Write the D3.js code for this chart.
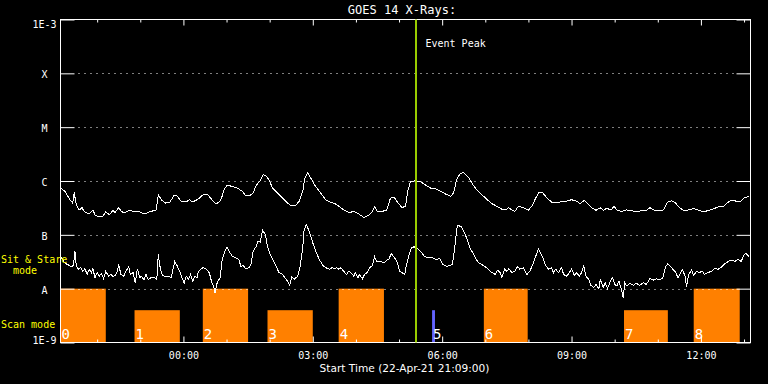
<!DOCTYPE html>
<html>
<head>
<meta charset="utf-8">
<script src="https://cdn.jsdelivr.net/npm/d3@7"></script>
<style>
  body { margin: 0; background: #000; }
  svg { display: block; }
</style>
</head>
<body>
<svg id="chart"></svg>
<script>
// GOES 14 X-ray flux, start 22-Apr-21 21:09:00 UT, 16 hours shown
const startTime = Date.UTC(2021, 3, 22, 21, 9, 0);
const spanMinutes = 960;
const peakMinute = 495;

// long channel (1-8 A): minutes after start, flux in 1e-7 W/m^2
const longMinutes = [0,6,13,17,19,22,26,30,33,40,45,48,54,59,63,68,73,76,81,85,89,95,103,110,117,124,131,133,136,141,146,152,158,162,168,175,179,184,189,193,198,205,209,214,217,221,224,228,232,239,246,253,258,263,268,272,277,282,286,290,295,302,309,316,320,327,332,337,340,344,348,355,362,369,376,382,387,394,401,408,415,422,429,434,437,441,447,454,459,464,468,475,480,483,487,494,501,508,515,522,529,536,543,547,551,556,561,568,574,579,586,593,600,607,614,620,623,628,632,637,644,651,656,661,666,671,677,684,691,697,704,711,718,723,729,735,739,745,751,755,760,766,770,774,781,787,794,801,808,815,820,827,834,839,844,850,855,861,867,875,881,888,895,903,910,917,923,927,934,941,946,952,958];
const longFlux = [7.4,6.5,4.5,3.9,6.1,3.6,2.9,3.2,2.7,2.45,2.9,2.35,2.15,2.2,2.7,2.35,2.85,2.6,3.2,2.7,2.55,2.85,2.7,2.67,2.45,2.67,2.85,2.9,5.5,4.4,3.9,4.0,5.4,5.3,4.2,4.1,4.5,4.1,4.4,4.8,5.5,5.5,4.8,4.0,3.8,4.1,4.8,7.1,8.4,7.9,7.4,6.4,5.3,5.3,6.0,8.2,9.8,13.1,12.5,10.6,7.4,6.0,4.8,3.9,3.5,3.5,4.2,6.4,11.4,14.4,11.4,7.9,6.0,4.5,4.0,3.8,3.4,2.9,2.6,2.7,2.45,2.1,2.3,2.7,3.3,2.7,2.7,2.9,4.8,5.0,4.2,3.2,3.4,6.4,9.8,10.1,9.7,8.4,7.4,7.2,6.4,5.7,5.2,6.0,10.6,13.7,14.4,11.4,8.5,6.9,5.6,4.6,3.8,3.4,3.0,2.9,3.2,2.9,2.7,3.4,3.2,2.9,3.4,4.8,6.2,6.0,4.8,4.0,4.0,4.1,4.2,4.5,4.2,3.8,4.4,3.6,3.2,2.85,3.2,2.85,3.1,2.9,3.4,2.9,2.7,2.9,2.8,2.7,2.8,2.85,3.2,2.8,2.8,2.9,4.0,4.3,4.0,3.2,2.85,2.9,3.1,2.85,2.7,2.85,3.1,3.4,3.4,3.9,4.4,4.2,4.2,5.0,5.1];

// short channel (0.5-4 A): minutes after start, flux in 1e-8 W/m^2
const shortMinutes = [0,3,6,10,15,18,20,22,25,28,31,34,37,40,43,45,48,51,54,57,60,63,67,70,73,76,79,81,84,88,91,95,97,101,104,107,110,113,116,119,122,126,131,134,136,139,142,146,149,154,159,162,166,169,172,175,178,181,184,187,190,192,198,202,207,210,214,215,218,222,225,229,232,236,239,244,248,251,254,258,262,265,268,272,275,278,281,285,288,291,295,300,304,309,312,316,319,322,325,330,333,337,339,342,346,351,355,360,365,369,374,378,382,384,387,390,394,398,401,404,408,410,414,416,420,423,427,430,434,437,440,445,450,454,457,460,464,468,472,475,479,481,485,488,492,497,502,506,511,517,522,528,532,538,545,548,552,557,561,566,570,574,577,582,586,591,595,600,605,608,612,614,618,621,624,628,632,636,639,644,649,653,658,662,665,669,672,675,679,683,686,689,693,697,700,704,708,711,715,718,722,725,728,731,735,738,742,745,749,751,755,758,761,765,768,771,774,777,781,783,785,788,792,797,801,806,811,815,820,825,829,834,838,842,845,849,852,856,859,863,865,869,871,874,878,881,885,888,893,896,901,906,910,915,920,924,929,934,938,943,947,951,954,958];
const shortFlux = [4.0,3.5,3.0,2.8,2.55,2.7,5.0,2.6,2.3,2.45,2.1,2.35,1.84,2.3,1.98,2.35,1.6,1.98,1.71,1.92,1.53,2.1,1.71,1.84,1.67,1.77,2.1,2.8,1.84,1.71,2.1,2.6,1.84,1.98,1.29,2.35,1.6,1.71,1.45,1.84,1.49,1.6,1.6,1.49,4.3,2.3,1.77,1.67,1.71,1.6,3.2,2.7,2.1,1.6,1.26,1.71,1.49,1.84,1.38,1.71,1.6,2.1,2.45,2.35,1.98,1.38,1.0,0.84,1.29,1.6,3.5,5.0,5.9,4.6,4.0,3.75,3.5,2.6,2.7,2.3,2.45,2.8,5.0,6.0,7.7,7.3,12.2,10.1,6.1,4.6,3.5,2.6,1.98,1.84,1.6,1.38,1.15,1.67,1.49,1.71,2.45,5.7,12.5,15.5,11.7,7.1,5.0,3.5,2.7,2.45,2.3,2.45,2.35,2.45,2.3,2.45,2.1,1.84,2.1,1.98,1.71,1.98,1.6,1.84,1.53,1.84,2.0,2.45,2.7,3.9,3.2,3.2,3.0,3.4,3.5,4.5,3.9,3.2,2.1,1.98,1.84,2.6,4.3,5.7,6.0,5.5,4.8,4.0,3.75,3.75,3.5,3.6,2.8,2.6,2.8,5.0,14.9,14.4,11.7,8.2,5.5,4.6,3.75,3.0,2.8,2.55,2.3,2.0,1.84,2.2,1.98,1.6,2.3,2.1,2.35,1.98,2.1,2.6,2.3,2.45,1.84,2.1,3.0,4.3,5.5,4.3,3.5,2.7,2.3,2.45,1.98,2.3,1.98,2.45,1.84,1.71,1.98,2.3,1.77,1.98,1.71,1.98,2.7,1.71,1.49,1.15,1.05,1.2,1.0,1.49,1.05,1.29,1.0,1.38,1.6,1.2,1.12,1.38,0.90,0.68,1.29,1.12,1.26,1.15,1.26,1.15,1.29,1.2,1.53,1.45,1.53,1.45,1.6,2.6,2.9,2.55,2.3,2.0,1.6,1.98,2.3,1.71,1.09,1.84,2.2,1.77,2.1,1.98,2.1,1.84,2.0,2.1,2.35,2.3,2.55,2.9,3.2,3.4,3.2,3.5,3.2,4.3,4.5,3.9];

// flare class levels on the y axis
const levelNames = ["1E-9", "A", "B", "C", "M", "X", "1E-3"];
const levelFlux = [1e-9, 1e-8, 1e-7, 1e-6, 1e-5, 1e-4, 1e-3];

// observing mode blocks (minutes after start)
const modeLabels = ["0", "1", "2", "3", "4", "5", "6", "7", "8"];
const modeStart = [0, 103, 198, 288, 387, 517, 589, 784, 881];
const modeEnd = [63, 166, 261, 351, 450, 521, 650, 845, 945];
const modeKind = ["stare", "scan", "stare", "scan", "stare", "short", "stare", "scan", "stare"];

const width = 768, height = 384;
const margin = {top: 19.5, right: 17.5, bottom: 41.5, left: 60.5};
const x0 = margin.left, x1 = width - margin.right;
const y0 = margin.top, y1 = height - margin.bottom;
const mono = "'DejaVu Sans Mono', monospace";

const svg = d3.select("#chart")
    .attr("width", width)
    .attr("height", height)
    .style("background", "#000");

const toDate = m => new Date(startTime + m * 60000);

const x = d3.scaleUtc()
    .domain([toDate(0), toDate(spanMinutes)])
    .range([x0, x1]);

const y = d3.scaleLog()
    .domain([1e-9, 1e-3])
    .range([y1, y0]);

// bar height within the lowest decade
const modeLevel = d3.scaleOrdinal()
    .domain(["stare", "scan", "short"])
    .range([1, 0.6, 0.6]);
const modeColor = d3.scaleOrdinal()
    .domain(["stare", "scan", "short"])
    .range(["#ff8000", "#ff8000", "#6464ff"]);
const yMode = d3.scaleLinear()
    .domain([0, 1])
    .range([y1, y(1e-8)]);

const modes = modeLabels.map((label, i) => ({
  label, kind: modeKind[i], start: toDate(modeStart[i]), end: toDate(modeEnd[i])
}));

svg.append("defs").append("clipPath").attr("id", "plot")
  .append("rect").attr("x", x0).attr("y", y0).attr("width", x1 - x0).attr("height", y1 - y0);

// mode bars
svg.append("g")
    .attr("clip-path", "url(#plot)")
  .selectAll("rect")
  .data(modes)
  .join("rect")
    .attr("x", d => x(d.start))
    .attr("width", d => x(d.end) - x(d.start))
    .attr("y", d => yMode(modeLevel(d.kind)))
    .attr("height", d => y1 - yMode(modeLevel(d.kind)))
    .attr("fill", d => modeColor(d.kind));

// dotted class lines
svg.append("g")
  .selectAll("line")
  .data(levelFlux.slice(1, -1))
  .join("line")
    .attr("x1", x0 + 18)
    .attr("x2", x1 - 17)
    .attr("y1", d => Math.round(y(d)) + 0.5)
    .attr("y2", d => Math.round(y(d)) + 0.5)
    .attr("stroke", "#fff")
    .attr("stroke-dasharray", "1,5");

// flux curves
const line = d3.line()
    .x(d => x(d[0]))
    .y(d => y(d[1]));

const longData = longMinutes.map((m, i) => [toDate(m), longFlux[i] * 1e-7]);
const shortData = shortMinutes.map((m, i) => [toDate(m), shortFlux[i] * 1e-8]);

svg.append("g")
    .attr("clip-path", "url(#plot)")
  .selectAll("path")
  .data([longData, shortData])
  .join("path")
    .attr("d", line)
    .attr("fill", "none")
    .attr("stroke", "#fff")
    .attr("stroke-width", 1)
    .attr("shape-rendering", "crispEdges");

// mode numbers
svg.append("g")
  .selectAll("text")
  .data(modes)
  .join("text")
    .attr("x", d => Math.max(x(d.start), x0) + 1)
    .attr("y", 338.5)
    .attr("fill", "#fff")
    .attr("font-family", mono)
    .attr("font-size", 14)
    .text(d => d.label);

// frame
svg.append("rect")
    .attr("x", x0).attr("y", y0)
    .attr("width", x1 - x0).attr("height", y1 - y0)
    .attr("fill", "none")
    .attr("stroke", "#fff");

// time axes
const hourly = x.ticks(d3.utcHour.every(1));
const major = d => d.getUTCHours() % 3 === 0;

const xBottom = svg.append("g")
    .attr("transform", `translate(0,${y1})`)
    .call(d3.axisBottom(x).tickValues(hourly).tickSizeInner(-3).tickSizeOuter(0)
      .tickPadding(9).tickFormat(d => major(d) ? d3.utcFormat("%H:%M")(d) : ""));
xBottom.select(".domain").remove();
xBottom.selectAll(".tick line").attr("stroke", "#fff").attr("y2", d => major(d) ? -6 : -3);
xBottom.selectAll(".tick text").attr("fill", "#fff").attr("font-family", mono).attr("font-size", 10);

const xTop = svg.append("g")
    .attr("transform", `translate(0,${y0})`)
    .call(d3.axisTop(x).tickValues(hourly).tickSizeInner(-3).tickSizeOuter(0).tickFormat(""));
xTop.select(".domain").remove();
xTop.selectAll(".tick line").attr("stroke", "#fff").attr("y2", d => major(d) ? 6 : 3);

// class axes
const yLeft = svg.append("g")
    .attr("transform", `translate(${x0},0)`)
    .call(d3.axisLeft(y).tickValues(levelFlux).tickSizeInner(-14).tickSizeOuter(0)
      .tickFormat((d, i) => levelNames[i]));
yLeft.select(".domain").remove();
yLeft.selectAll(".tick line").attr("stroke", "#fff");
yLeft.selectAll(".tick text")
    .attr("x", -16)
    .attr("text-anchor", "middle")
    .attr("dy", (d, i) => i === 0 ? 0.5 : i === levelFlux.length - 1 ? 7.5 : 4.5)
    .attr("fill", "#fff")
    .attr("font-family", mono)
    .attr("font-size", 10);

const yRight = svg.append("g")
    .attr("transform", `translate(${x1},0)`)
    .call(d3.axisRight(y).tickValues(levelFlux).tickSizeInner(-14).tickSizeOuter(0).tickFormat(""));
yRight.select(".domain").remove();
yRight.selectAll(".tick line").attr("stroke", "#fff");

// event peak marker
const peak = Math.round(x(toDate(peakMinute)));
svg.append("line")
    .attr("x1", peak).attr("x2", peak)
    .attr("y1", y0).attr("y2", y1)
    .attr("stroke", "#99cc00")
    .attr("stroke-width", 2);
svg.append("text")
    .attr("x", peak + 9.5)
    .attr("y", 47)
    .attr("fill", "#fff")
    .attr("font-family", mono)
    .attr("font-size", 10)
    .text("Event Peak");

// titles
svg.append("text")
    .attr("x", 402)
    .attr("y", 13.5)
    .attr("text-anchor", "middle")
    .attr("fill", "#fff")
    .attr("font-family", mono)
    .attr("font-size", 12)
    .text("GOES 14 X-Rays:");

svg.append("text")
    .attr("x", 404.5)
    .attr("y", 372)
    .attr("text-anchor", "middle")
    .attr("fill", "#fff")
    .attr("font-family", "'DejaVu Sans', sans-serif")
    .attr("font-size", 10.6)
    .text("Start Time (22-Apr-21 21:09:00)");

// mode legend
const legend = svg.append("g")
    .attr("fill", "#ffff00")
    .attr("font-family", mono)
    .attr("font-size", 10);
legend.append("text").attr("x", 1).attr("y", 262.5).text("Sit & Stare");
legend.append("text").attr("x", 13).attr("y", 274).text("mode");
legend.append("text").attr("x", 1).attr("y", 328).text("Scan mode");
</script>
</body>
</html>
